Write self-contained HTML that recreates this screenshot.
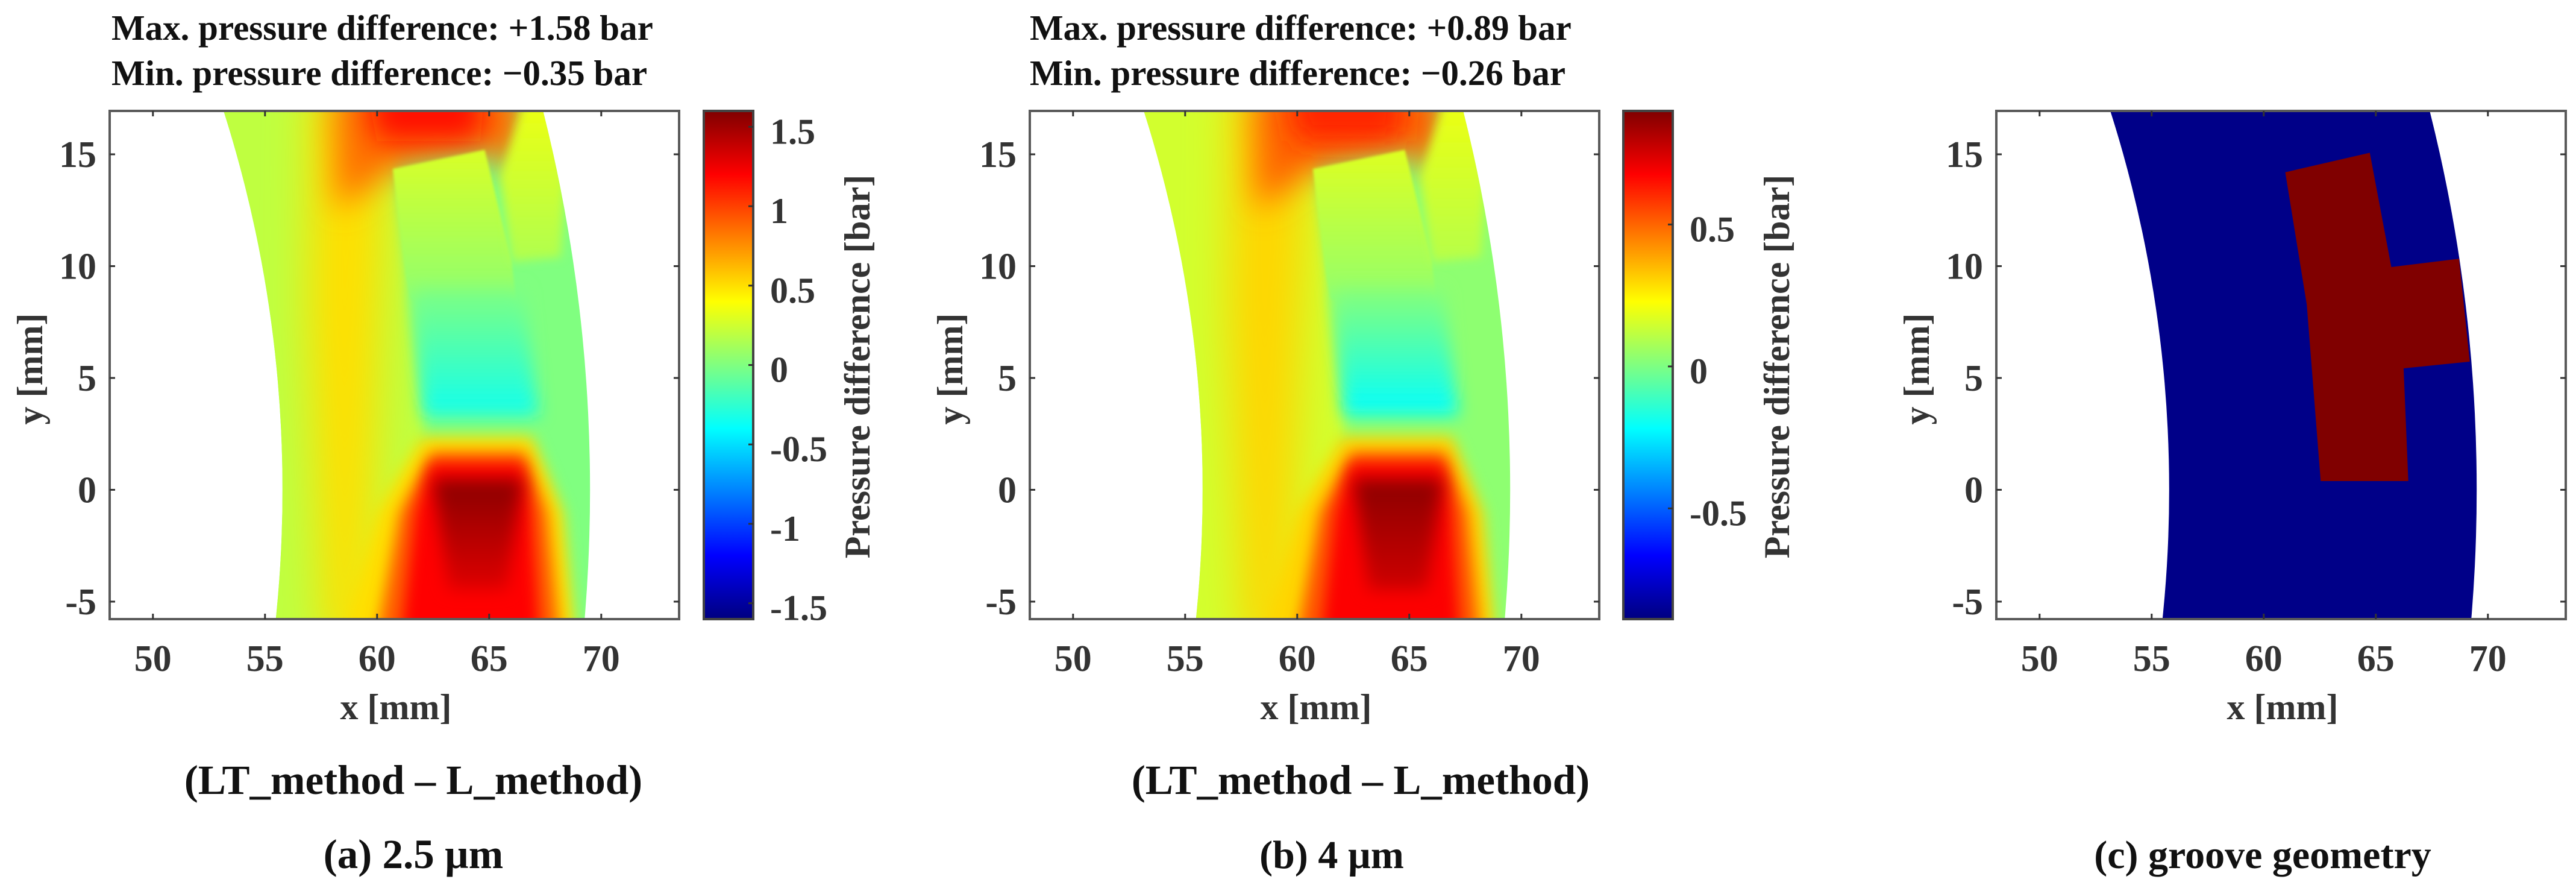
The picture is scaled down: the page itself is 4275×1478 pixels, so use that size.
<!DOCTYPE html>
<html><head><meta charset="utf-8">
<style>
html,body{margin:0;padding:0;background:#fff;}
svg{display:block;}
text{font-family:"Liberation Serif",serif;font-weight:bold;}
</style></head>
<body>
<svg id="fig" width="4275" height="1478" viewBox="0 0 4275 1478" xmlns="http://www.w3.org/2000/svg">
<defs id="defs"></defs>
</svg>
<script>
// ---- data ----
const xTicks = [50, 55, 60, 65, 70];
const yTicks = [-5, 0, 5, 10, 15];
const cbTicksA = [1.5, 1, 0.5, 0, -0.5, -1, -1.5];
const cbTicksB = [0.5, 0, -0.5];
const cbRangeA = [-1.6, 1.6];
const cbRangeB = [-0.89, 0.9];
const annulusRadii = [55.78, 69.5];
// field regions (data coordinates, mm)
const regionNames = ['base','left-area','yellow-band','top-orange','top-red','groove-upper','groove-right','groove-middle','bottom-halo','bottom-orange','bottom-red','bottom-core'];
const regionPolys = [
  [[47,-7],[75,-7],[75,18],[47,18]],
  [[53,-7],[61.8,-7],[62.1,3],[61.3,9.5],[60.7,14.3],[61,18],[52,18]],
  [[57.6,-7],[59.6,-7],[60.4,13.5],[58.8,18],[57,18],[56.9,8]],
  [[58.2,12.5],[60.7,14.3],[64.8,15.2],[66.3,14],[66.7,18],[58,18]],
  [[60,15.6],[64.6,15.6],[64.8,18],[59.5,18]],
  [[60.7,14.35],[64.8,15.2],[66,10.2],[66.2,8.5],[61.5,8.5],[61.3,9.5]],
  [[66,10.2],[68.2,10.4],[68.6,17.5],[66.6,17.5],[65.5,14]],
  [[61.6,9],[66.5,9],[67.2,3.3],[62.1,3.3]],
  [[58.3,-7],[68.9,-7],[68.3,-1],[66.9,2.4],[62,2.4],[60,-1]],
  [[59.9,-7],[68.2,-7],[67.6,-1],[66.6,1.7],[62.4,1.7],[61,-1]],
  [[61.0,-7],[67.3,-7],[66.9,-1],[66.5,1.2],[62.4,1.2],[61.7,-1]],
  [[62.5,0.47],[66.5,0.47],[65.8,-4.5],[63.2,-4.5]]
];
const regionBlur = [0, 10, 34, 26, 24, 2, 8, 14, 12, 12, 12, 14];
const valuesTopA = [0.0, 0.2, 0.5, 0.85, 1.15, 0.28, 0.35, 0.0, 0.5, 0.9, 1.2, 1.57];
const valuesBotA = [0.0, 0.2, 0.5, 0.85, 1.15, 0.05, 0.15, -0.35, 0.5, 0.9, 1.2, 1.3];
const valuesTopB = [0.03, 0.15, 0.3, 0.5, 0.62, 0.17, 0.2, 0.02, 0.3, 0.52, 0.68, 0.88];
const valuesBotB = [0.03, 0.15, 0.3, 0.5, 0.62, 0.04, 0.1, -0.22, 0.3, 0.52, 0.68, 0.76];
// groove geometry (panel c)
const groovePoly = [[60.96,14.2],[64.73,15.07],[65.69,9.96],[68.71,10.33],[69.19,5.73],[66.24,5.43],[66.45,0.39],[62.54,0.39],[61.92,8.28]];

// ---- helpers ----
const NS = 'http://www.w3.org/2000/svg';
const svg = document.getElementById('fig');
const defs = document.getElementById('defs');
function mk(tag, attrs, parent){
  const e = document.createElementNS(NS, tag);
  for (const k in attrs) e.setAttribute(k, attrs[k]);
  (parent || svg).appendChild(e);
  return e;
}
function jet(t){
  t = Math.max(0, Math.min(1, t));
  const c = v => Math.round(255*Math.max(0, Math.min(1, v)));
  return 'rgb(' + c(1.5-Math.abs(4*t-3)) + ',' + c(1.5-Math.abs(4*t-2)) + ',' + c(1.5-Math.abs(4*t-1)) + ')';
}
const KX = 37.2, KY = 37.1, XMIN = 48.07, YMAX = 16.94, PW = 945, PH = 843, TOP = 184;
function makeAxes(left){
  return { sx: x => left + (x - XMIN)*KX, sy: y => TOP + (YMAX - y)*KY, left: left };
}
function txt(s, attrs, name, parent){
  const e = mk('text', attrs, parent);
  e.textContent = s;
  
  
  return e;
}
let uid = 0;
function annulusClip(ax){
  const id = 'ann' + (uid++);
  const cp = mk('clipPath', {id: id}, defs);
  const cx = ax.sx(0), cy = ax.sy(0);
  let d = '';
  annulusRadii.forEach(r => {
    const rx = r*KX, ry = r*KY;
    d += 'M' + (cx+rx) + ',' + cy + ' A' + rx + ',' + ry + ' 0 1 0 ' + (cx-rx) + ',' + cy + ' A' + rx + ',' + ry + ' 0 1 0 ' + (cx+rx) + ',' + cy + ' ';
  });
  mk('path', {d: d, 'clip-rule': 'evenodd'}, cp);
  const id2 = 'plot' + (uid++);
  const cp2 = mk('clipPath', {id: id2}, defs);
  mk('rect', {x: ax.left, y: TOP, width: PW, height: PH}, cp2);
  return [id, id2];
}
function polyPts(ax, pts){ return pts.map(p => ax.sx(p[0]).toFixed(1) + ',' + ax.sy(p[1]).toFixed(1)).join(' '); }

function drawFrame(ax, g){
  mk('rect', {x: ax.left, y: TOP, width: PW, height: PH, fill: 'none', stroke: '#5a5a5a', 'stroke-width': 4}, g);
  xTicks.forEach(v => {
    const x = ax.sx(v);
    mk('line', {x1: x, x2: x, y1: TOP+PH, y2: TOP+PH-9, stroke: '#333', 'stroke-width': 3}, g);
    mk('line', {x1: x, x2: x, y1: TOP, y2: TOP+9, stroke: '#333', 'stroke-width': 3}, g);
    txt(String(v), {x: x, y: 1113, 'font-size': 62, 'text-anchor': 'middle', fill: '#333'}, 'x-tick-label', g);
  });
  yTicks.forEach(v => {
    const y = ax.sy(v);
    mk('line', {x1: ax.left, x2: ax.left+9, y1: y, y2: y, stroke: '#333', 'stroke-width': 3}, g);
    mk('line', {x1: ax.left+PW, x2: ax.left+PW-9, y1: y, y2: y, stroke: '#333', 'stroke-width': 3}, g);
    txt(String(v), {x: ax.left-22, y: y+21, 'font-size': 62, 'text-anchor': 'end', fill: '#333'}, 'y-tick-label', g);
  });
  txt('x [mm]', {x: ax.left+475, y: 1193, 'font-size': 60, 'text-anchor': 'middle', fill: '#333'}, 'x-axis-title', g);
  txt('y [mm]', {x: 0, y: 0, 'font-size': 60, 'text-anchor': 'middle', fill: '#333', transform: 'translate(' + (ax.left-112) + ',612) rotate(-90)'}, 'y-axis-title', g);
}

function drawField(ax, g, vTop, vBot, range){
  const ids = annulusClip(ax);
  const outer = mk('g', {'clip-path': 'url(#' + ids[1] + ')'}, g);
  const inner = mk('g', {'clip-path': 'url(#' + ids[0] + ')'}, outer);
  const norm = v => (v - range[0])/(range[1]-range[0]);
  regionPolys.forEach((pts, i) => {
    let fill;
    if (vTop[i] === vBot[i]) fill = jet(norm(vTop[i]));
    else {
      const gid = 'grad' + (uid++);
      const lg = mk('linearGradient', {id: gid, x1: 0, y1: 0, x2: 0, y2: 1}, defs);
      mk('stop', {offset: 0, 'stop-color': jet(norm(vTop[i]))}, lg);
      mk('stop', {offset: 0.5, 'stop-color': jet(norm((vTop[i]+vBot[i])/2))}, lg);
      mk('stop', {offset: 1, 'stop-color': jet(norm(vBot[i]))}, lg);
      fill = 'url(#' + gid + ')';
    }
    const attrs = {points: polyPts(ax, pts), fill: fill};
    if (regionBlur[i] > 0){
      const fid = 'blur' + (uid++);
      const f = mk('filter', {id: fid, filterUnits: 'userSpaceOnUse', x: ax.left-200, y: TOP-200, width: PW+400, height: PH+400}, defs);
      mk('feGaussianBlur', {stdDeviation: regionBlur[i]}, f);
      attrs.filter = 'url(#' + fid + ')';
    }
    const p = mk('polygon', attrs, inner);
    
    
  });
}

function drawColorbar(x0, ticks, range, g){
  const gid = 'cb' + (uid++);
  const lg = mk('linearGradient', {id: gid, x1: 0, y1: 1, x2: 0, y2: 0}, defs);
  for (let i = 0; i <= 32; i++) mk('stop', {offset: i/32, 'stop-color': jet(i/32)}, lg);
  const w = 82;
  const r = mk('rect', {x: x0, y: TOP, width: w, height: PH, fill: 'url(#' + gid + ')', stroke: '#444', 'stroke-width': 4}, g);
  
  
  const cy = v => TOP + PH*(range[1]-v)/(range[1]-range[0]);
  ticks.forEach(v => {
    const y = cy(v);
    mk('line', {x1: x0+w, x2: x0+w-8, y1: y, y2: y, stroke: '#333', 'stroke-width': 3}, g);
    txt(v < 0 ? '-' + String(-v) : String(v), {x: x0+110, y: y+28, 'font-size': 60, fill: '#333'}, 'colorbar-tick-label', g);
  });
  txt('Pressure difference [bar]', {x: 0, y: 0, 'font-size': 60, 'text-anchor': 'middle', fill: '#333', transform: 'translate(' + (x0+275) + ',608) rotate(-90)'}, 'colorbar-title', g);
}

// ---- panel a ----
const axA = makeAxes(182);
const gA = mk('g', {});  
drawField(axA, gA, valuesTopA, valuesBotA, cbRangeA);
drawFrame(axA, gA);
drawColorbar(1168, cbTicksA, cbRangeA, gA);
txt('Max. pressure difference: +1.58 bar', {x: 185, y: 66, 'font-size': 59, fill: '#111'}, 'max-pressure-note', gA);
txt('Min. pressure difference: \u22120.35 bar', {x: 185, y: 141, 'font-size': 59, fill: '#111'}, 'min-pressure-note', gA);
txt('(LT_method \u2013 L_method)', {x: 686, y: 1317, 'font-size': 69, 'text-anchor': 'middle', fill: '#111'}, 'difference-caption', gA);
txt('(a) 2.5 \u00b5m', {x: 686, y: 1440, 'font-size': 69, 'text-anchor': 'middle', fill: '#111'}, 'panel-a-caption', gA);

// ---- panel b ----
const axB = makeAxes(1709);
const gB = mk('g', {});  
drawField(axB, gB, valuesTopB, valuesBotB, cbRangeB);
drawFrame(axB, gB);
drawColorbar(2694, cbTicksB, cbRangeB, gB);
txt('Max. pressure difference: +0.89 bar', {x: 1709, y: 66, 'font-size': 59, fill: '#111'}, 'max-pressure-note', gB);
txt('Min. pressure difference: \u22120.26 bar', {x: 1709, y: 141, 'font-size': 59, fill: '#111'}, 'min-pressure-note', gB);
txt('(LT_method \u2013 L_method)', {x: 2258, y: 1317, 'font-size': 69, 'text-anchor': 'middle', fill: '#111'}, 'difference-caption', gB);
txt('(b) 4 \u00b5m', {x: 2210, y: 1440, 'font-size': 66, 'text-anchor': 'middle', fill: '#111'}, 'panel-b-caption', gB);

// ---- panel c ----
const axC = makeAxes(3313);
const gC = mk('g', {});  
(function(){
  const ids = annulusClip(axC);
  const outer = mk('g', {'clip-path': 'url(#' + ids[1] + ')'}, gC);
  const inner = mk('g', {'clip-path': 'url(#' + ids[0] + ')'}, outer);
  const land = mk('rect', {x: axC.left, y: TOP, width: PW, height: PH, fill: '#000088'}, inner);
  
  
  const gr = mk('polygon', {points: polyPts(axC, groovePoly), fill: '#800000'}, inner);
  
  
})();
drawFrame(axC, gC);
txt('(c) groove geometry', {x: 3755, y: 1440, 'font-size': 66, 'text-anchor': 'middle', fill: '#111'}, 'panel-c-caption', gC);
</script>
</body></html>
